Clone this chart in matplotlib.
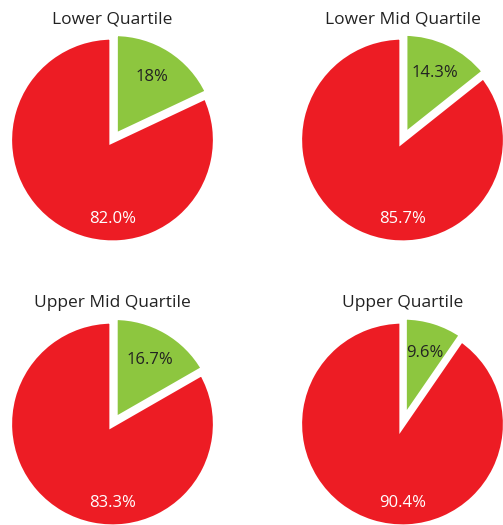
import numpy as np
import matplotlib.pyplot as plt

# quartile split, percentages
titles = ['Lower Quartile', 'Lower Mid Quartile', 'Upper Mid Quartile', 'Upper Quartile']
green_share = [18.0, 14.3, 16.7, 9.6]
red_share = [82.0, 85.7, 83.3, 90.4]
green_labels = ['18%', '14.3%', '16.7%', '9.6%']
red_labels = ['82.0%', '85.7%', '83.3%', '90.4%']

green = '#8DC63F'
red = '#ED1C24'

plt.rcParams['font.family'] = ['Open Sans', 'DejaVu Sans']

W, H = 503, 525
fig = plt.figure(figsize=(W / 100, H / 100), dpi=100)

R = 103.5          # pie radius in pixels
LIM = 1.15
size = 2 * LIM * R
centers = [(112.5, 140), (402.5, 140), (112.5, 424), (402.5, 424)]

for i, (cx, cy) in enumerate(centers):
    ax = fig.add_axes([(cx - size / 2) / W, (H - cy - size / 2) / H, size / W, size / H])
    wedges, _ = ax.pie([green_share[i], red_share[i]], colors=[green, red],
                       startangle=90, counterclock=False, explode=[0.04, 0],
                       wedgeprops=dict(edgecolor='white', linewidth=4.5))
    for w in wedges:
        w.set_clip_on(False)
    # green label sits along the slice bisector
    mid = np.deg2rad(90 - green_share[i] / 100 * 360 / 2)
    d = 0.72
    ax.text(d * np.cos(mid), d * np.sin(mid), green_labels[i], ha='center', va='center',
            fontsize=12, color='#222222')
    ax.text(0, -0.76, red_labels[i], ha='center', va='center', fontsize=12, color='white')
    ax.text(0, 1.165, titles[i], ha='center', va='center', fontsize=12.5, color='#222222',
            clip_on=False)
    ax.set_xlim(-LIM, LIM)
    ax.set_ylim(-LIM, LIM)
    ax.set_aspect('equal')
    ax.axis('off')

fig.savefig('out.png', dpi=100, facecolor='white')
